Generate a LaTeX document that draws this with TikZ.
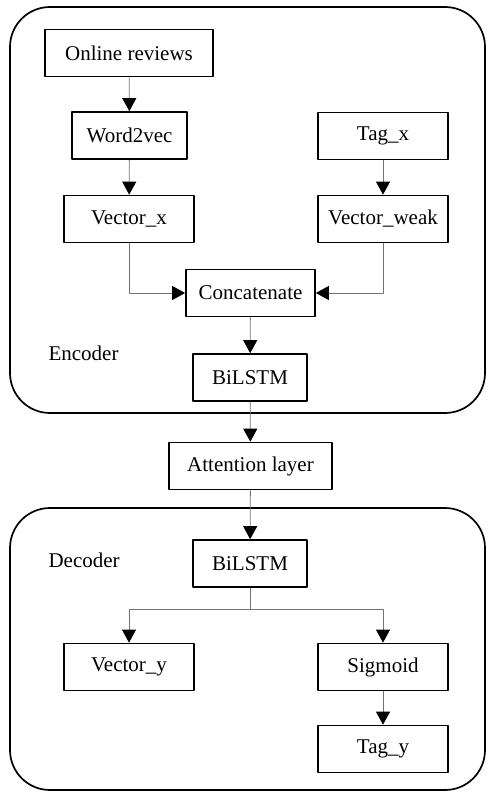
\documentclass[tikz,border=0pt]{standalone}
\usepackage{fontspec}
\setmainfont{Liberation Serif}
\usetikzlibrary{arrows.meta}
\begin{document}
\begin{tikzpicture}[x=1pt,y=-1pt, font=\fontsize{21}{24}\selectfont, line join=round,
	blk/.style={draw, line width=1.7pt, minimum height=47pt, inner sep=0pt},
	part/.style={draw, line width=1.7pt, rounded corners=40pt},
	conn/.style={draw=black!55, line width=0.8pt, -{Triangle[length=13pt,width=14pt,black]}}]
		\useasboundingbox (0,0) rectangle (487,792);
		% encoder and decoder frames
		\draw[part] (10,7) rectangle (485,413);
		\draw[part] (10,508) rectangle (485,790);
		\node[anchor=west] (enc) at (45,353) {Encoder};
		\node[anchor=west] (dec) at (45,560) {Decoder};
		% blocks
		\node[blk, minimum width=168pt] (rev) at (129,53) {Online reviews};
		\node[blk, minimum width=115pt] (w2v) at (129.5,135.5) {Word2vec};
		\node[blk, minimum width=130pt] (tagx) at (383,136) {Tag\_x};
		\node[blk, minimum width=130pt] (vecx) at (129,219) {Vector\_x};
		\node[blk, minimum width=130pt] (vecw) at (383,219) {Vector\_weak};
		\node[blk, minimum width=129pt] (cat) at (250.5,293) {Concatenate};
		\node[blk, minimum width=114pt] (bienc) at (250,377.5) {BiLSTM};
		\node[blk, minimum width=163pt] (att) at (250.5,466) {Attention layer};
		\node[blk, minimum width=114pt] (bidec) at (250,563.5) {BiLSTM};
		\node[blk, minimum width=130pt] (vecy) at (129,667) {Vector\_y};
		\node[blk, minimum width=130pt] (sig) at (383,667) {Sigmoid};
		\node[blk, minimum width=130pt] (tagy) at (383,749) {Tag\_y};
		\coordinate (split) at (250,609);
		% connectors
		\draw[conn] (rev) -- (w2v);
		\draw[conn] (w2v) -- (vecx);
		\draw[conn] (tagx) -- (vecw);
		\draw[conn] (vecx.south) |- (cat.west);
		\draw[conn] (vecw.south) |- (cat.east);
		\draw[conn] (cat) -- (bienc);
		\draw[conn] (bienc) -- (att);
		\draw[conn] (att) -- (bidec);
		\draw[draw=black!55, line width=0.8pt] (bidec) -- (split);
		\draw[conn] (split) -| (vecy.north);
		\draw[conn] (split) -| (sig.north);
		\draw[conn] (sig) -- (tagy);
\end{tikzpicture}
\end{document}
